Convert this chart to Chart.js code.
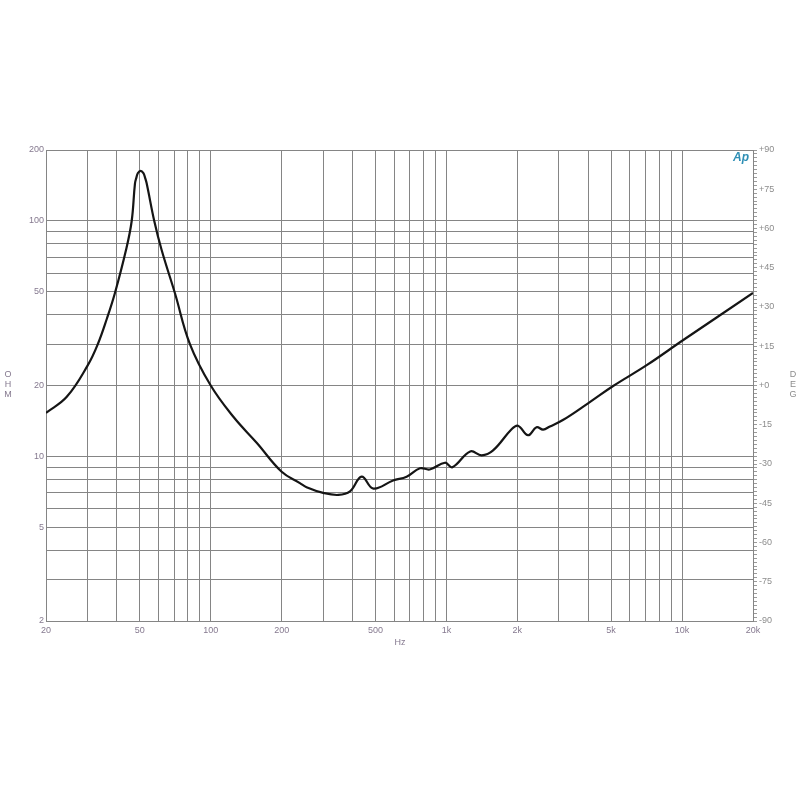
<!DOCTYPE html>
<html>
<head>
<meta charset="utf-8">
<script src="https://cdn.jsdelivr.net/npm/chart.js@4.4.1/dist/chart.umd.min.js"></script>
<style>
  html, body { margin: 0; padding: 0; background: #fff; }
  #wrap { width: 800px; height: 800px; }
</style>
</head>
<body>
<div id="wrap"><canvas id="impChart" width="800" height="800"></canvas></div>
<script>
// impedance curve (Hz, ohm)
var freqs = [20, 24.5, 30.1, 33.2, 36.3, 39.2, 43.7, 46.2, 47.7, 48.4, 49.1, 50.4, 51.8, 52.6, 53.5, 57.6, 61.9,
    70.5, 81.6, 100, 125, 157, 200, 239, 255, 300, 348, 390, 437, 490, 594, 678, 772, 850,
    986, 1060, 1262, 1412, 1578, 1886, 2012, 2220, 2412, 2572, 2750, 3134, 3990, 5100, 7080, 10120, 20000];
var ohms = [15.3, 17.9, 24.4, 30, 38.6, 49.3, 75.2, 99.9, 144, 153, 159.7, 163, 159.7, 153, 144, 99.9, 75.2,
    49.3, 30, 20, 14.7, 11.4, 8.6, 7.7, 7.4, 7.0, 6.86, 7.1, 8.2, 7.3, 7.9, 8.2, 8.9, 8.8,
    9.4, 9.0, 10.5, 10.1, 10.6, 13.0, 13.5, 12.3, 13.3, 13.0, 13.4, 14.3, 16.8, 19.9, 24.4, 31.2, 49.4];

// grid / tick positions
var xGrid = [20, 30, 40, 50, 60, 70, 80, 90, 100, 200, 300, 400, 500, 600, 700, 800, 900,
    1000, 2000, 3000, 4000, 5000, 6000, 7000, 8000, 9000, 10000, 20000];
var xLabels = { 20: '20', 50: '50', 100: '100', 200: '200', 500: '500', 1000: '1k', 2000: '2k',
    5000: '5k', 10000: '10k', 20000: '20k' };
var yGrid = [2, 3, 4, 5, 6, 7, 8, 9, 10, 20, 30, 40, 50, 60, 70, 80, 90, 100, 200];
var yLabels = [2, 5, 10, 20, 50, 100, 200];
var degMin = -90, degMax = 90, degStep = 15, degMinor = 1.5;

var gridColor = '#858585';
var ohmColor = '#85798f';
var degColor = '#8c8c8c';
var fontFam = '"Liberation Sans", Arial, sans-serif';

var curve = freqs.map(function(f, i) { return { x: f, y: ohms[i] }; });

// axis titles and the little logo
var extraText = {
    id: 'extraText',
    afterDraw: function(chart) {
        var ctx = chart.ctx;
        ctx.save();
        ctx.font = '9px ' + fontFam;
        ctx.textAlign = 'center';
        ctx.textBaseline = 'middle';
        ctx.fillStyle = ohmColor;
        ['O', 'H', 'M'].forEach(function(c, i) { ctx.fillText(c, 8, 375 + i * 10); });
        ctx.fillText('Hz', 400, 643);
        ctx.fillStyle = degColor;
        ['D', 'E', 'G'].forEach(function(c, i) { ctx.fillText(c, 793, 375 + i * 10); });
        ctx.fillStyle = '#2f8fb5';
        ctx.font = 'italic bold 12px ' + fontFam;
        ctx.fillText('Ap', 741, 158);
        ctx.restore();
    }
};

new Chart(document.getElementById('impChart').getContext('2d'), {
    type: 'line',
    data: {
        datasets: [{
            data: curve,
            borderColor: '#151515',
            borderWidth: 2.2,
            pointRadius: 0,
            fill: false,
            tension: 0.4,
            xAxisID: 'x',
            yAxisID: 'y'
        }]
    },
    options: {
        responsive: false,
        animation: false,
        layout: { padding: { top: 150, left: 0, right: 0, bottom: 0 } },
        plugins: {
            legend: { display: false },
            tooltip: { enabled: false }
        },
        scales: {
            x: {
                type: 'logarithmic',
                position: 'bottom',
                min: 20,
                max: 20000,
                afterBuildTicks: function(scale) {
                    scale.ticks = xGrid.map(function(v) { return { value: v }; });
                },
                afterFit: function(scale) { scale.height = 179; },
                grid: { color: gridColor, lineWidth: 1, drawTicks: false },
                border: { color: gridColor },
                ticks: {
                    autoSkip: false,
                    maxRotation: 0,
                    padding: 4,
                    color: ohmColor,
                    font: { family: fontFam, size: 9 },
                    callback: function(v) { return xLabels[v] || ''; }
                }
            },
            y: {
                type: 'logarithmic',
                position: 'left',
                min: 2,
                max: 200,
                afterBuildTicks: function(scale) {
                    scale.ticks = yGrid.map(function(v) { return { value: v }; });
                },
                afterFit: function(scale) { scale.width = 46; },
                grid: { color: gridColor, lineWidth: 1, drawTicks: false },
                border: { color: gridColor },
                ticks: {
                    autoSkip: false,
                    padding: 2,
                    color: ohmColor,
                    font: { family: fontFam, size: 9 },
                    callback: function(v) { return yLabels.indexOf(v) >= 0 ? String(v) : ''; }
                }
            },
            y2: {
                type: 'linear',
                position: 'right',
                min: degMin,
                max: degMax,
                afterBuildTicks: function(scale) {
                    var t = [];
                    for (var v = degMin; v <= degMax + 0.001; v += degMinor) t.push({ value: Math.round(v * 10) / 10 });
                    scale.ticks = t;
                },
                afterFit: function(scale) { scale.width = 47; },
                grid: { drawOnChartArea: false, drawTicks: true, tickLength: 4, color: '#9a9a9a' },
                border: { color: gridColor },
                ticks: {
                    autoSkip: false,
                    padding: 2,
                    color: degColor,
                    font: { family: fontFam, size: 9 },
                    callback: function(v) {
                        if (v % degStep !== 0) return '';
                        return v >= 0 ? '+' + v : String(v);
                    }
                }
            }
        }
    },
    plugins: [extraText]
});
</script>
</body>
</html>
